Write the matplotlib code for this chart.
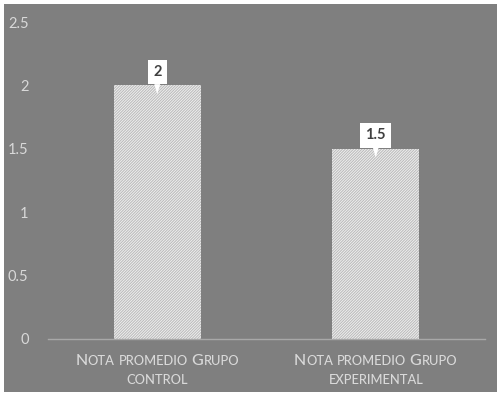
import matplotlib
matplotlib.use("Agg")
import matplotlib.pyplot as plt
import matplotlib.patches as patches

categories = [("Nota promedio Grupo", "control"),
              ("Nota promedio Grupo", "experimental")]
values = [2, 1.5]
value_labels = ["2", "1.5"]
y_ticks = [0, 0.5, 1, 1.5, 2, 2.5]
y_tick_labels = ["0", "0.5", "1", "1.5", "2", "2.5"]

bg_gray = "#7f7f7f"
text_gray = "#d9d9d9"
font = "Lato"


def smallcaps_line(fig, renderer, x_center, y_base, s, big=11.5, small=9.3):
    # split into runs of (upper/other) and lowercase letters
    runs = []
    for ch in s:
        is_low = ch.islower()
        if runs and runs[-1][1] == is_low:
            runs[-1][0] += ch
        else:
            runs.append([ch, is_low])
    pieces = []
    total = 0
    for txt, low in runs:
        size = small if low else big
        t = fig.text(0, 0, txt.upper(), fontsize=size, family=font,
                     fontweight="medium", color=text_gray, transform=None,
                     ha="left", va="baseline", zorder=3)
        w = t.get_window_extent(renderer).width
        pieces.append((t, w))
        total += w
    x = x_center - total / 2
    for t, w in pieces:
        t.set_position((x, y_base))
        x += w


def plot():
    fig = plt.figure(figsize=(5.03, 4.0), dpi=100)
    fig.patch.set_facecolor("white")
    fig.patches.append(patches.Rectangle((4 / 503, 8 / 400), 493 / 503, 388 / 400,
                                         transform=fig.transFigure, facecolor=bg_gray,
                                         edgecolor="none", zorder=-5))

    ax = fig.add_axes([48 / 503, 61 / 400, 437 / 503, 317 / 400])
    ax.set_zorder(2)
    ax.set_facecolor("none")

    plt.rcParams["hatch.color"] = "#bdbdbd"
    plt.rcParams["hatch.linewidth"] = 0.8
    xs = list(range(len(values)))
    ax.bar(xs, values, width=0.4, color="#f2f2f2", hatch="/" * 12,
           edgecolor="#bdbdbd", linewidth=0, zorder=2)

    ax.set_xlim(-0.5, len(values) - 0.5)
    ax.set_ylim(0, 2.5)
    ax.set_yticks(y_ticks)
    ax.set_yticklabels(y_tick_labels, family=font, fontsize=10.5, color=text_gray)
    ax.tick_params(axis="y", length=0, pad=14)
    ax.set_xticks([])
    for side in ["top", "right", "left"]:
        ax.spines[side].set_visible(False)
    ax.spines["bottom"].set_color("#a8a8a8")
    ax.spines["bottom"].set_linewidth(1.0)

    for x, v, lab in zip(xs, values, value_labels):
        ax.annotate(lab, xy=(x, v - 0.07), xycoords="data",
                    xytext=(0, 11), textcoords="offset points",
                    ha="center", va="bottom", fontsize=10.5, fontweight="bold",
                    family=font, color="#404040", zorder=5,
                    bbox=dict(boxstyle="square,pad=0.35", fc="white", ec="none"),
                    arrowprops=dict(arrowstyle="wedge,tail_width=0.4,shrink_factor=0.5",
                                    fc="white", ec="none", shrinkA=0, shrinkB=0))

    fig.canvas.draw()
    renderer = fig.canvas.get_renderer()
    for x, (line1, line2) in zip(xs, categories):
        xc = ax.transData.transform((x, 0))[0]
        smallcaps_line(fig, renderer, xc, 400 - 365, line1)
        smallcaps_line(fig, renderer, xc, 400 - 384, line2)

    fig.savefig("out.png", dpi=100, facecolor="white")


if __name__ == "__main__":
    plot()
